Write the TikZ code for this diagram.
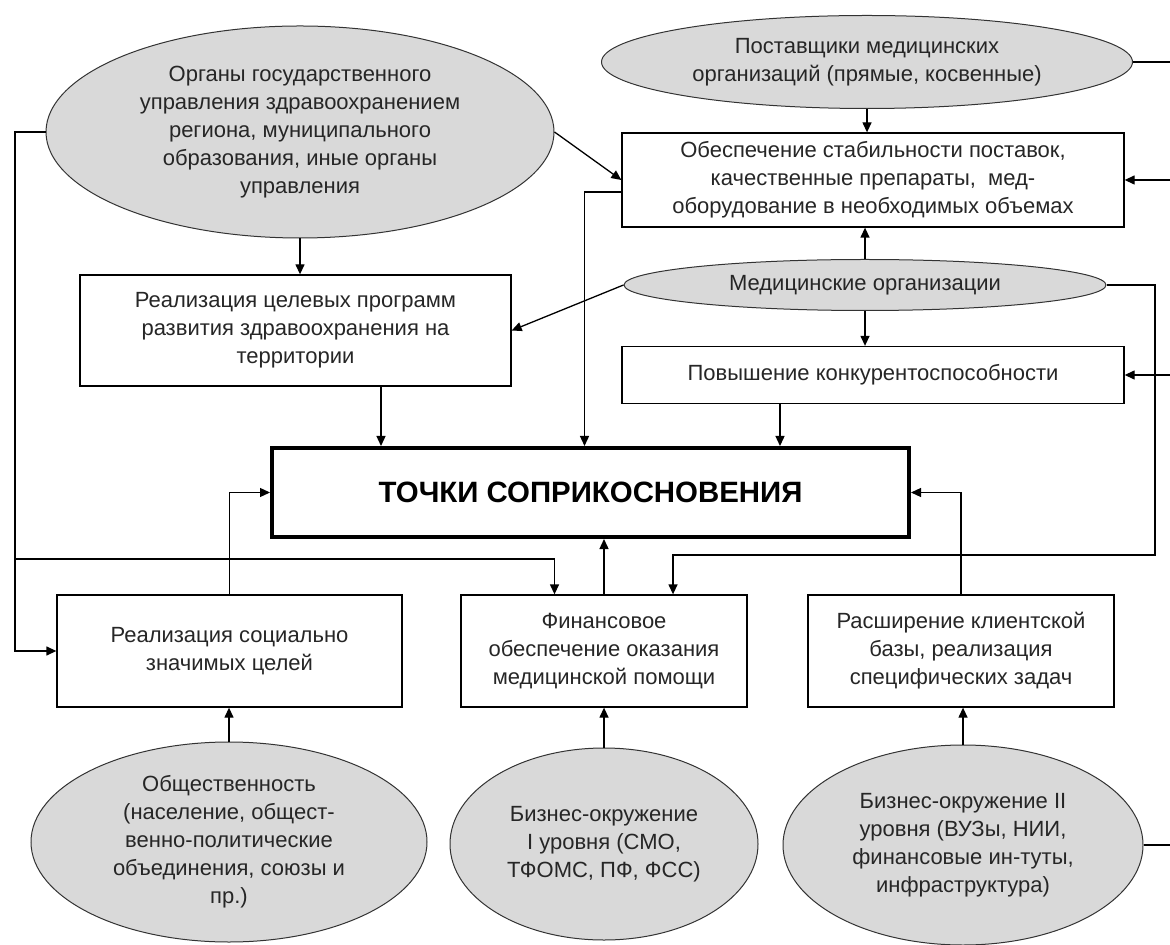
\documentclass[tikz,border=0pt]{standalone}
\usepackage{fontspec}
\setmainfont{Liberation Sans}
\usetikzlibrary{arrows.meta}
\usetikzlibrary{shapes.geometric}
\usetikzlibrary{calc}

\begin{document}
\begin{tikzpicture}[x=0.5pt,y=-0.5pt,
    font=\fontsize{11}{14}\selectfont,
    every node/.style={align=center,text=black!85,inner sep=0pt},
    oval/.style={ellipse,draw=black!80,fill=black!15,line width=0.5pt},
    box/.style={rectangle,draw,fill=white,line width=0.65pt},
    arr/.style={-{Triangle[length=5pt,width=4.5pt]},line width=0.65pt},
    ln/.style={line width=0.65pt}]
  \useasboundingbox (0,0) rectangle (1170,945);

  % ellipses
  \node[oval,minimum width=254pt,minimum height=106pt] (org) at (300,132)
    {Органы государственного\\управления здравоохранением\\региона, муниципального\\образования, иные органы\\управления};
  \node[oval,minimum width=265.5pt,minimum height=46.5pt] (post) at (867,62)
    {Поставщики медицинских\\организаций (прямые, косвенные)};
  \node[oval,minimum width=241pt,minimum height=25.5pt] (med) at (865,285)
    {Медицинские организации};
  \node[oval,minimum width=198pt,minimum height=100pt] (obsh) at (229,842)
    {Общественность\\(население, общест-\\венно-политические\\объединения, союзы и\\пр.)};
  \node[oval,minimum width=154pt,minimum height=96pt] (biz1) at (604,844)
    {Бизнес-окружение\\I уровня (СМО,\\ТФОМС, ПФ, ФСС)};
  \node[oval,minimum width=180pt,minimum height=100pt] (biz2) at (963,845)
    {Бизнес-окружение II\\уровня (ВУЗы, НИИ,\\финансовые ин-туты,\\инфраструктура)};

  % boxes
  \node[box,minimum width=251pt,minimum height=47pt] (stab) at (873,180)
    {Обеспечение стабильности поставок,\\качественные препараты, \ мед-\\оборудование в необходимых объемах};
  \node[box,minimum width=251pt,minimum height=28.5pt] (konk) at (873,375)
    {Повышение конкурентоспособности};
  \node[box,minimum width=215.5pt,minimum height=55.5pt] (prog) at (295.5,330.5)
    {Реализация целевых программ\\развития здравоохранения на\\территории};
  \node[box,minimum width=318.5pt,minimum height=44.5pt,line width=2pt,
    text=black,font=\fontsize{14.7}{17}\selectfont\bfseries] (tochki) at (590.5,492.5)
    {ТОЧКИ СОПРИКОСНОВЕНИЯ};
  \node[box,minimum width=172.5pt,minimum height=56pt] (soc) at (229.5,651)
    {Реализация социально\\значимых целей};
  \node[box,minimum width=143pt,minimum height=56pt] (fin) at (604,651)
    {Финансовое\\обеспечение оказания\\медицинской помощи};
  \node[box,minimum width=153pt,minimum height=56pt] (klient) at (961,651)
    {Расширение клиентской\\базы, реализация\\специфических задач};

  % free ends
  \coordinate (rA) at (1170,62);
  \coordinate (rB) at (1170,180);
  \coordinate (rD) at (1170,375);
  \coordinate (rE) at (1170,845);
  \coordinate (lL) at (15,559);
  \coordinate (rC) at (1155,555);

  % connectors
  \draw[arr] (org.south) -- (org.south |- prog.north);
  \draw[arr] (org.east) -- (stab.west);
  \draw[arr] (org.west) -| (lL) |- (soc.west);
  \draw[arr] (lL) -| (org.east |- fin.north);
  \draw[ln] (post.east) -- (rA);
  \draw[arr] (post.south) -- (post.south |- stab.north);
  \draw[arr] (rB) -- (stab.east);
  \draw[arr] ($(stab.west)+(0,12)$) -| ($(tochki.north)+(-6,0)$);
  \draw[arr] (med.north) -- (med.north |- stab.south);
  \draw[arr] (med.south) -- (med.south |- konk.north);
  \draw[arr] (med.west) -- (prog.east);
  \draw[arr] (med.east) -| (rC) -| ($(fin.north)+(69,0)$);
  \draw[arr] (rD) -- (konk.east);
  \draw[arr] ($(konk.south)+(-93,0)$) -- ($(tochki.north)+(189.5,0)$);
  \draw[arr] ($(prog.south)+(85.5,0)$) -- ($(tochki.north)+(-209.5,0)$);
  \draw[arr] (soc.north) |- (tochki.west);
  \draw[arr] (fin.north) -- (fin.north |- tochki.south);
  \draw[arr] (klient.north) |- (tochki.east);
  \draw[arr] (obsh.north) -- (obsh.north |- soc.south);
  \draw[arr] (biz1.north) -- (biz1.north |- fin.south);
  \draw[arr] (biz2.north) -- (biz2.north |- klient.south);
  \draw[ln] (biz2.east) -- (rE);
\end{tikzpicture}
\end{document}
